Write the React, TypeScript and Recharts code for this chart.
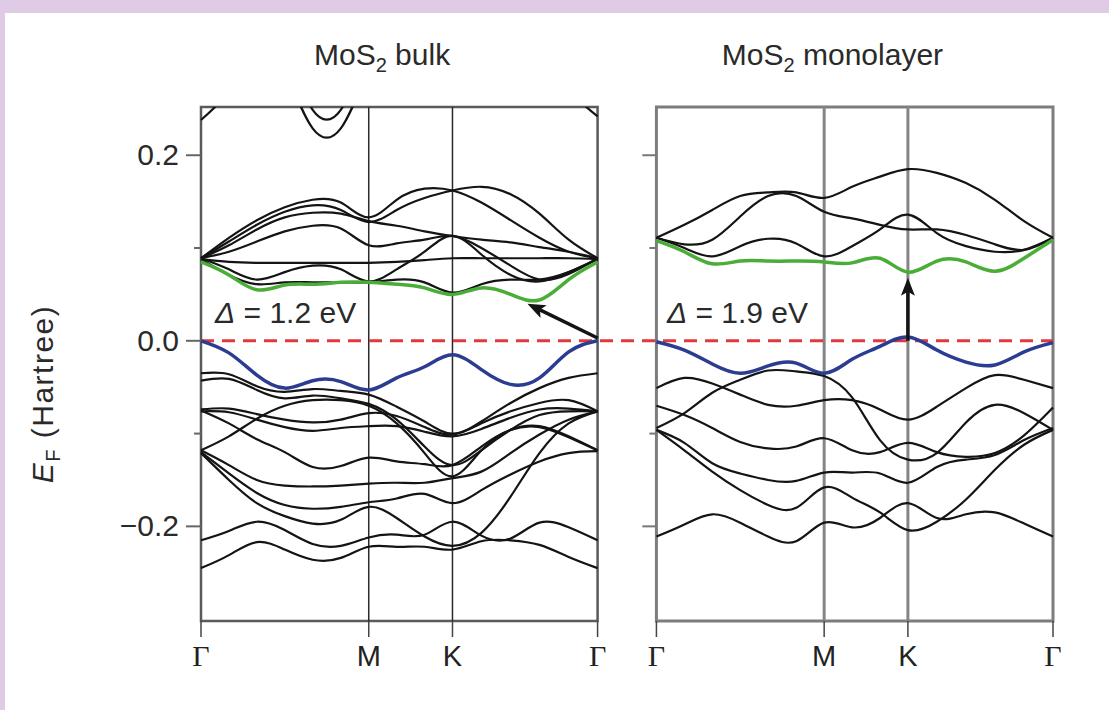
import React from "react";
import { LineChart, Line, XAxis, YAxis, ReferenceLine, ReferenceArea } from "recharts";

const SANS = "'Liberation Sans Narrow', 'Liberation Sans', Arial, sans-serif";
const SERIF = "'Liberation Serif', 'DejaVu Serif', serif";

// sampling of the Γ–M–K–Γ path (units of 2π/a)
const K_GRID = [0, 0.111, 0.222, 0.333, 0.444, 0.556, 0.667, 0.778, 0.889, 1.0, 1.115, 1.231, 1.346, 1.462, 1.577];
const SYM_K = [0, 0.667, 1.0, 1.577];
const SYM_LABELS = ["Γ", "M", "K", "Γ"];
const PATH_END = 1.577;
const MONO_START = 1.811; // monolayer panel sits after a small gap
const E_MIN = -0.302;
const E_MAX = 0.252;
const E_TICKS = [-0.2, -0.1, 0, 0.1, 0.2];

// ---- MoS2 bulk (Hartree) ----
// bands leaving the top of the window
const BULK_HIGH = [
  [0.238, 0.268, 0.31, 0.34, 0.34, 0.34, 0.34, 0.34, 0.34, 0.34, 0.34, 0.34, 0.31, 0.27, 0.242],
  [0.36, 0.36, 0.355, 0.295, 0.229, 0.229, 0.295, 0.355, 0.36, 0.36, 0.36, 0.36, 0.36, 0.36, 0.36],
  [0.4, 0.4, 0.39, 0.32, 0.249, 0.249, 0.32, 0.39, 0.4, 0.4, 0.4, 0.4, 0.4, 0.4, 0.4],
];
const BULK_COND = [
  [0.089, 0.111, 0.13, 0.144, 0.152, 0.149, 0.133, 0.152, 0.164, 0.162, 0.149, 0.13, 0.111, 0.096, 0.089],
  [0.089, 0.107, 0.125, 0.139, 0.146, 0.141, 0.128, 0.141, 0.154, 0.162, 0.166, 0.158, 0.137, 0.109, 0.089],
  [0.089, 0.103, 0.12, 0.133, 0.138, 0.137, 0.129, 0.124, 0.118, 0.113, 0.109, 0.106, 0.101, 0.096, 0.089],
  [0.089, 0.096, 0.107, 0.118, 0.124, 0.121, 0.103, 0.105, 0.109, 0.113, 0.1, 0.081, 0.066, 0.072, 0.089],
  [0.088, 0.085, 0.084, 0.084, 0.084, 0.084, 0.084, 0.085, 0.087, 0.089, 0.089, 0.089, 0.089, 0.089, 0.088],
  [0.089, 0.077, 0.066, 0.074, 0.081, 0.077, 0.064, 0.077, 0.096, 0.113, 0.093, 0.071, 0.064, 0.074, 0.088],
  [0.088, 0.071, 0.061, 0.063, 0.063, 0.063, 0.063, 0.066, 0.063, 0.052, 0.061, 0.066, 0.066, 0.074, 0.088],
];
const BULK_CBM = [0.085, 0.071, 0.055, 0.06, 0.061, 0.063, 0.063, 0.061, 0.057, 0.05, 0.057, 0.05, 0.044, 0.066, 0.085];
const BULK_VBM = [0.0, -0.013, -0.037, -0.051, -0.043, -0.044, -0.053, -0.04, -0.028, -0.015, -0.031, -0.047, -0.04, -0.012, 0.0];
const BULK_VAL = [
  [-0.035, -0.036, -0.049, -0.055, -0.052, -0.054, -0.058, -0.071, -0.087, -0.1, -0.087, -0.067, -0.051, -0.04, -0.035],
  [-0.043, -0.041, -0.053, -0.062, -0.059, -0.062, -0.068, -0.085, -0.114, -0.134, -0.118, -0.096, -0.08, -0.076, -0.076],
  [-0.118, -0.103, -0.084, -0.07, -0.064, -0.064, -0.07, -0.089, -0.121, -0.146, -0.118, -0.096, -0.092, -0.103, -0.118],
  [-0.074, -0.073, -0.079, -0.085, -0.088, -0.085, -0.078, -0.081, -0.093, -0.101, -0.089, -0.076, -0.067, -0.064, -0.076],
  [-0.076, -0.077, -0.085, -0.093, -0.097, -0.094, -0.092, -0.092, -0.098, -0.103, -0.095, -0.083, -0.074, -0.073, -0.076],
  [-0.075, -0.089, -0.106, -0.12, -0.136, -0.135, -0.126, -0.13, -0.133, -0.134, -0.114, -0.096, -0.093, -0.104, -0.118],
  [-0.118, -0.134, -0.15, -0.156, -0.157, -0.156, -0.154, -0.153, -0.153, -0.148, -0.141, -0.121, -0.101, -0.085, -0.076],
  [-0.12, -0.143, -0.164, -0.177, -0.181, -0.179, -0.174, -0.17, -0.165, -0.175, -0.161, -0.144, -0.13, -0.121, -0.119],
  [-0.121, -0.15, -0.175, -0.189, -0.197, -0.193, -0.179, -0.191, -0.211, -0.221, -0.207, -0.168, -0.121, -0.089, -0.076],
  [-0.215, -0.205, -0.195, -0.204, -0.219, -0.221, -0.212, -0.209, -0.209, -0.195, -0.21, -0.213, -0.196, -0.201, -0.215],
  [-0.245, -0.231, -0.217, -0.225, -0.236, -0.234, -0.222, -0.222, -0.222, -0.225, -0.216, -0.215, -0.22, -0.233, -0.245],
];

// ---- MoS2 monolayer (Hartree) ----
const MONO_COND = [
  [0.111, 0.125, 0.141, 0.156, 0.16, 0.16, 0.154, 0.166, 0.177, 0.185, 0.181, 0.17, 0.152, 0.129, 0.111],
  [0.111, 0.104, 0.109, 0.134, 0.156, 0.156, 0.139, 0.132, 0.125, 0.12, 0.12, 0.114, 0.104, 0.098, 0.111],
  [0.111, 0.1, 0.091, 0.102, 0.11, 0.105, 0.091, 0.102, 0.12, 0.136, 0.116, 0.102, 0.096, 0.098, 0.111],
];
const MONO_CBM = [0.108, 0.096, 0.083, 0.086, 0.086, 0.086, 0.085, 0.084, 0.089, 0.074, 0.086, 0.085, 0.075, 0.089, 0.109];
const MONO_VBM = [-0.001, -0.01, -0.025, -0.035, -0.027, -0.024, -0.035, -0.02, -0.006, 0.004, -0.01, -0.023, -0.026, -0.012, -0.002];
const MONO_VAL = [
  [-0.051, -0.04, -0.046, -0.058, -0.069, -0.07, -0.064, -0.064, -0.074, -0.085, -0.071, -0.051, -0.037, -0.042, -0.051],
  [-0.094, -0.078, -0.056, -0.042, -0.032, -0.033, -0.038, -0.061, -0.107, -0.128, -0.121, -0.088, -0.069, -0.078, -0.096],
  [-0.07, -0.08, -0.094, -0.109, -0.116, -0.114, -0.105, -0.118, -0.12, -0.11, -0.12, -0.125, -0.121, -0.102, -0.072],
  [-0.096, -0.11, -0.132, -0.143, -0.15, -0.151, -0.142, -0.142, -0.143, -0.153, -0.136, -0.128, -0.123, -0.107, -0.094],
  [-0.096, -0.118, -0.141, -0.161, -0.177, -0.18, -0.158, -0.169, -0.185, -0.204, -0.195, -0.171, -0.139, -0.112, -0.096],
  [-0.211, -0.198, -0.187, -0.196, -0.211, -0.216, -0.196, -0.201, -0.191, -0.175, -0.191, -0.187, -0.185, -0.197, -0.211],
];

// gap arrows: [k, E] of tail and head
const BULK_ARROW = [[1.577, 0.003], [1.298, 0.04]];
const MONO_ARROW = [[1.0, 0.0], [1.0, 0.068]];

const W = 1109;
const H = 710;
const MARGIN = { top: 107, right: 56, bottom: 29, left: 16 };
const Y_AXIS_W = 185;
const PLOT_LEFT = MARGIN.left + Y_AXIS_W;

const BLACK = "#141414";
const GREEN = "#4aad38";
const BLUE = "#2c3d91";
const RED = "#e0393e";

const toPoints = (vals: number[], off: number) =>
  K_GRID.map((k, i) => ({ k: +(k + off).toFixed(3), e: vals[i] }));

type Series = { vals: number[]; off: number; color: string; w: number };

const SERIES: Series[] = [
  ...BULK_HIGH.map((vals) => ({ vals, off: 0, color: BLACK, w: 2.2 })),
  ...BULK_COND.map((vals) => ({ vals, off: 0, color: BLACK, w: 2.2 })),
  ...BULK_VAL.map((vals) => ({ vals, off: 0, color: BLACK, w: 2.2 })),
  ...MONO_COND.map((vals) => ({ vals, off: MONO_START, color: BLACK, w: 2.2 })),
  ...MONO_VAL.map((vals) => ({ vals, off: MONO_START, color: BLACK, w: 2.2 })),
  { vals: BULK_CBM, off: 0, color: GREEN, w: 3.5 },
  { vals: BULK_VBM, off: 0, color: BLUE, w: 3.5 },
  { vals: MONO_CBM, off: MONO_START, color: GREEN, w: 3.5 },
  { vals: MONO_VBM, off: MONO_START, color: BLUE, w: 3.5 },
];

const X_TICKS = [...SYM_K, ...SYM_K.map((k) => +(k + MONO_START).toFixed(3))];
const X_LABELS = [...SYM_LABELS, ...SYM_LABELS];

function fmtE(v: number) {
  if (Math.abs(v) < 1e-9) return "0.0";
  return v < 0 ? "\u2212" + Math.abs(v).toFixed(1) : v.toFixed(1);
}

const isMajor = (v: number) => Math.abs(v) < 1e-9 || Math.abs(Math.abs(v) - 0.2) < 1e-9;

function EnergyTick({ y, payload }: any) {
  const v = payload.value;
  const major = isMajor(v);
  return (
    <g>
      <line x1={PLOT_LEFT - (major ? 15 : 7)} x2={PLOT_LEFT} y1={y} y2={y} stroke="#666" strokeWidth={2} />
      {major && (
        <text x={PLOT_LEFT - 22} y={y} dy={10} textAnchor="end" fontFamily={SANS} fontSize={30} fill="#2a2a2a">
          {fmtE(v)}
        </text>
      )}
    </g>
  );
}

function PathTick({ x, y, index }: any) {
  const label = X_LABELS[index] ?? "";
  const gamma = label === "Γ";
  return (
    <text x={x} y={y + 27} textAnchor="middle" fontFamily={gamma ? SERIF : SANS} fontSize={gamma ? 30 : 29} fill="#222">
      {label}
    </text>
  );
}

function EnergyLabel(props: any) {
  const vb = props.viewBox;
  const cx = vb.x + 37;
  const cy = vb.y + vb.height / 2 + 30;
  return (
    <text
      x={cx}
      y={cy}
      transform={`rotate(-90, ${cx}, ${cy})`}
      textAnchor="middle"
      fontFamily={SANS}
      fontSize={30}
      letterSpacing={1.5}
      fill="#2a2a2a"
    >
      <tspan fontStyle="italic">E</tspan>
      <tspan dy={7} fontSize={20}>F</tspan>
      <tspan dy={-7}> (Hartree)</tspan>
    </text>
  );
}

const arrowShape = (p: any) => {
  const { x1, y1, x2, y2 } = p;
  const dx = x2 - x1;
  const dy = y2 - y1;
  const len = Math.hypot(dx, dy) || 1;
  const ux = dx / len;
  const uy = dy / len;
  const hl = 18;
  const hw = 7;
  const bx = x2 - ux * hl;
  const by = y2 - uy * hl;
  const nx = x2 - ux * (hl - 4);
  const ny = y2 - uy * (hl - 4);
  return (
    <g>
      <line x1={x1} y1={y1} x2={nx} y2={ny} stroke={BLACK} strokeWidth={3.5} />
      <polygon
        points={`${x2},${y2} ${bx - uy * hw},${by + ux * hw} ${nx},${ny} ${bx + uy * hw},${by - ux * hw}`}
        fill={BLACK}
      />
    </g>
  );
};

const gapText = (value: string) => (p: any) => (
  <text x={p.x1} y={p.y1} fontFamily={SANS} fontSize={30} fill="#2a2a2a">
    <tspan fontStyle="italic">Δ</tspan>
    {` = ${value} eV`}
  </text>
);

const titleText = (name: string) => (p: any) => (
  <text x={p.x1} y={p.y1} textAnchor="middle" fontFamily={SANS} fontSize={30} fill="#2a2a2a">
    MoS
    <tspan dy={7} fontSize={20}>2</tspan>
    <tspan dy={-7}>{` ${name}`}</tspan>
  </text>
);

const PANELS = [
  { off: 0, frame: "#5a5a5a", frameW: 2.5, sym: "#2a2a2a", symW: 1.5 },
  { off: MONO_START, frame: "#7d7d7d", frameW: 3, sym: "#858585", symW: 3 },
];

export default function App() {
  return (
    <div style={{ position: "absolute", left: 0, top: 0, width: W, height: H, background: "#e0cbe7" }}>
      <div style={{ position: "absolute", left: 5, top: 13, right: 0, bottom: 0, background: "#fff" }} />
      <div style={{ position: "absolute", left: 0, top: 0 }}>
        <LineChart width={W} height={H} margin={MARGIN}>
          <XAxis
            type="number"
            dataKey="k"
            domain={[0, +(MONO_START + PATH_END).toFixed(3)]}
            ticks={X_TICKS}
            interval={0}
            axisLine={false}
            tickSize={16}
            tickLine={{ stroke: "#444", strokeWidth: 1.5 }}
            tick={(props: any) => <PathTick {...props} />}
            height={60}
          />
          <YAxis
            type="number"
            domain={[E_MIN, E_MAX]}
            allowDataOverflow
            ticks={E_TICKS}
            interval={0}
            axisLine={false}
            tickLine={false}
            tick={(props: any) => <EnergyTick {...props} />}
            width={Y_AXIS_W}
            label={(props: any) => <EnergyLabel {...props} />}
          />

          {/* panel frames and high-symmetry lines */}
          {PANELS.map((p) => (
            <ReferenceArea
              key={"frame" + p.off}
              x1={p.off}
              x2={+(p.off + PATH_END).toFixed(3)}
              y1={E_MIN}
              y2={E_MAX}
              fill="none"
              fillOpacity={0}
              stroke={p.frame}
              strokeWidth={p.frameW}
              ifOverflow="visible"
            />
          ))}
          {PANELS.map((p) =>
            SYM_K.slice(1, 3).map((k) => (
              <ReferenceLine key={"sym" + p.off + k} x={+(k + p.off).toFixed(3)} stroke={p.sym} strokeWidth={p.symW} />
            ))
          )}
          {/* y ticks on the monolayer frame */}
          {E_TICKS.map((e) => (
            <ReferenceLine
              key={"mt" + e}
              segment={[
                { x: MONO_START - (isMajor(e) ? 0.056 : 0.028), y: e },
                { x: MONO_START, y: e },
              ]}
              stroke="#777"
              strokeWidth={2}
              ifOverflow="visible"
            />
          ))}

          {/* Fermi level */}
          <ReferenceLine y={0} stroke={RED} strokeWidth={3} strokeDasharray="13 8" />

          {SERIES.map((s, i) => (
            <Line
              key={"band" + i}
              data={toPoints(s.vals, s.off)}
              dataKey="e"
              type="natural"
              stroke={s.color}
              strokeWidth={s.w}
              dot={false}
              activeDot={false}
              isAnimationActive={false}
            />
          ))}

          {/* gap arrows */}
          <ReferenceLine
            segment={BULK_ARROW.map(([k, e]) => ({ x: k, y: e }))}
            shape={arrowShape}
            ifOverflow="visible"
          />
          <ReferenceLine
            segment={MONO_ARROW.map(([k, e]) => ({ x: +(k + MONO_START).toFixed(3), y: e }))}
            shape={arrowShape}
            ifOverflow="visible"
          />

          {/* annotations */}
          <ReferenceLine
            segment={[{ x: 0.056, y: 0.019 }, { x: 0.056, y: 0.019 }]}
            shape={gapText("1.2")}
            ifOverflow="visible"
          />
          <ReferenceLine
            segment={[{ x: 1.853, y: 0.019 }, { x: 1.853, y: 0.019 }]}
            shape={gapText("1.9")}
            ifOverflow="visible"
          />
          <ReferenceLine
            segment={[{ x: 0.72, y: 0.297 }, { x: 0.72, y: 0.297 }]}
            shape={titleText("bulk")}
            ifOverflow="visible"
          />
          <ReferenceLine
            segment={[{ x: 2.511, y: 0.297 }, { x: 2.511, y: 0.297 }]}
            shape={titleText("monolayer")}
            ifOverflow="visible"
          />
        </LineChart>
      </div>
    </div>
  );
}
